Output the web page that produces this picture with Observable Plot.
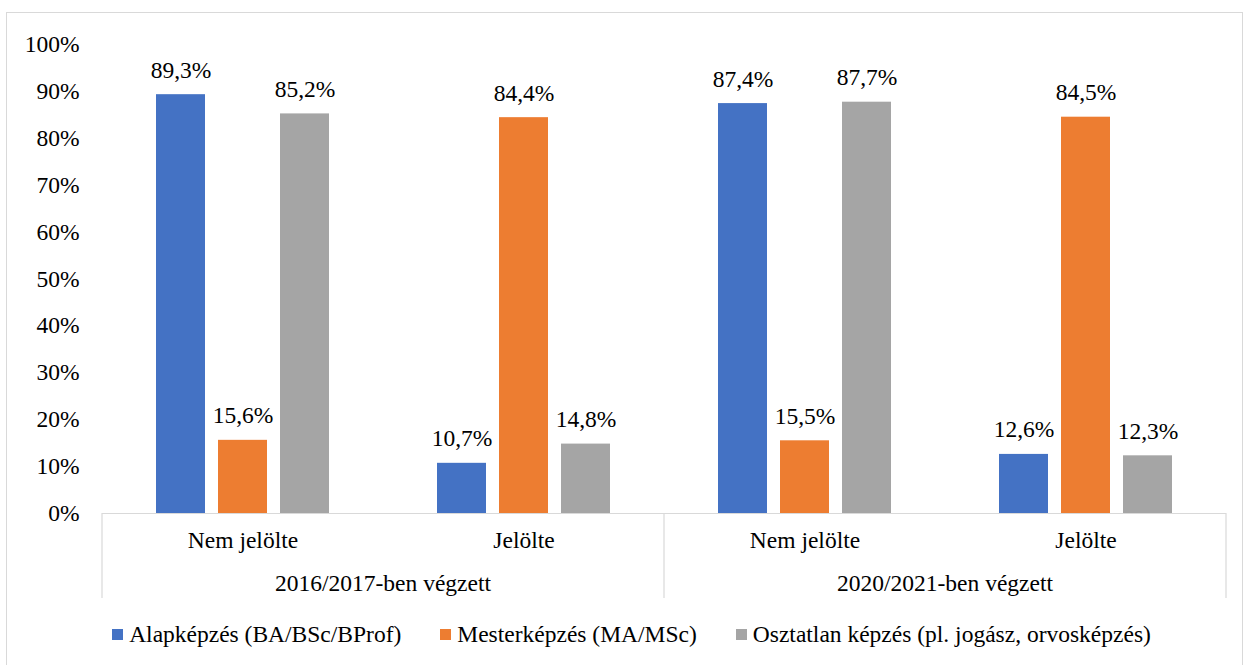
<!DOCTYPE html>
<html>
<head>
<meta charset="utf-8">
<script src="https://cdn.jsdelivr.net/npm/d3@7"></script>
<script src="https://cdn.jsdelivr.net/npm/@observablehq/plot@0.6"></script>
<style>
  html, body { margin: 0; padding: 0; background: #fff; }
  body { width: 1244px; height: 665px; position: relative; overflow: hidden;
         font-family: 'Liberation Serif', serif; }
  #frame { position: absolute; left: 6px; top: 12px; width: 1237px; height: 660px;
           border: 1.5px solid #d9d9d9; box-sizing: border-box; }
  #chart { position: absolute; left: 0; top: 0; }
  #legend { position: absolute; left: 0; top: 622px; width: 1244px; box-sizing: border-box;
            padding-left: 19px; display: flex; justify-content: center; align-items: center;
            font-family: 'Liberation Serif', serif; font-size: 23.5px; line-height: 24px; color: #000; }
  .item { display: flex; align-items: center; margin: 0 19.5px; white-space: nowrap; }
  .sw { width: 11px; height: 11px; margin-right: 6px; display: inline-block; }
</style>
</head>
<body>
<div id="frame"></div>
<div id="chart"></div>
<div id="legend"></div>
<script>
const groups = ["2016/2017-ben végzett", "2020/2021-ben végzett"];
const subcats = ["Nem jelölte", "Jelölte"];
const series = ["Alapképzés (BA/BSc/BProf)", "Mesterképzés (MA/MSc)", "Osztatlan képzés (pl. jogász, orvosképzés)"];
const colors = ["#4472C4", "#ED7D31", "#A5A5A5"];
// order: 2016 Nem jelölte, 2016 Jelölte, 2020 Nem jelölte, 2020 Jelölte
const alap = [0.893, 0.107, 0.874, 0.126];
const mester = [0.156, 0.844, 0.155, 0.845];
const osztatlan = [0.852, 0.148, 0.877, 0.123];
const yTicks = [0, 0.1, 0.2, 0.3, 0.4, 0.5, 0.6, 0.7, 0.8, 0.9, 1.0];

const FONT = "'Liberation Serif', serif";
const FS = 23.5;

const cats = groups.flatMap(g => subcats.map(s => g + "|" + s));
const valueSets = [alap, mester, osztatlan];
const data = series.flatMap((s, i) => cats.map((c, j) => ({cat: c, series: s, value: valueSets[i][j]})));
const fmt = v => (v * 100).toFixed(1).replace(".", ",") + "%";

const plot = Plot.plot({
  width: 1244,
  height: 610,
  marginLeft: 101,
  marginRight: 18,
  marginTop: 44,
  marginBottom: 97,
  style: {fontFamily: FONT, fontSize: FS + "px", color: "#000", background: "transparent", overflow: "visible"},
  fx: {domain: cats, padding: 0, label: null, axis: "bottom", tickFormat: d => d.split("|")[1], tickSize: 0, tickPadding: 18},
  x: {domain: series, paddingInner: 0.21, paddingOuter: 0.84, axis: null},
  y: {domain: [0, 1], ticks: yTicks, tickFormat: d3.format(".0%"), tickSize: 0, tickPadding: 23, label: null},
  color: {domain: series, range: colors},
  marks: [
    Plot.barY(data, {fx: "cat", x: "series", y: "value", fill: "series"}),
    Plot.text(data, {fx: "cat", x: "series", y: "value", text: d => fmt(d.value), lineAnchor: "bottom", dy: -17, fontSize: FS, fontFamily: FONT, fill: "#000"}),
    Plot.ruleY([0], {stroke: "#d9d9d9", strokeWidth: 1.2})
  ]
});

// separators and outer group labels, positioned through the plot's own scales
const fxs = plot.scale("fx");
const ys = plot.scale("y");
const bw = fxs.bandwidth;
const y0 = ys.apply(0);
const svg = d3.select(plot);
const bounds = [fxs.apply(cats[0]), fxs.apply(cats[2]), fxs.apply(cats[3]) + bw];
svg.append("g").selectAll("line").data(bounds).join("line")
  .attr("x1", d => d).attr("x2", d => d)
  .attr("y1", y0).attr("y2", y0 + 85)
  .attr("stroke", "#d9d9d9").attr("stroke-width", 1.2);
svg.append("g").selectAll("text").data(groups).join("text")
  .attr("x", (g, i) => fxs.apply(cats[i * 2]) + bw)
  .attr("y", y0 + 78)
  .attr("text-anchor", "middle")
  .attr("font-size", FS)
  .attr("font-family", FONT)
  .attr("fill", "#000")
  .text(d => d);

document.getElementById("chart").appendChild(plot);

// legend
const cs = plot.scale("color");
const leg = d3.select("#legend");
series.forEach((s, i) => {
  const it = leg.append("div").attr("class", "item");
  it.append("span").attr("class", "sw").style("background", cs.apply(s));
  it.append("span").text(s);
});
</script>
</body>
</html>
